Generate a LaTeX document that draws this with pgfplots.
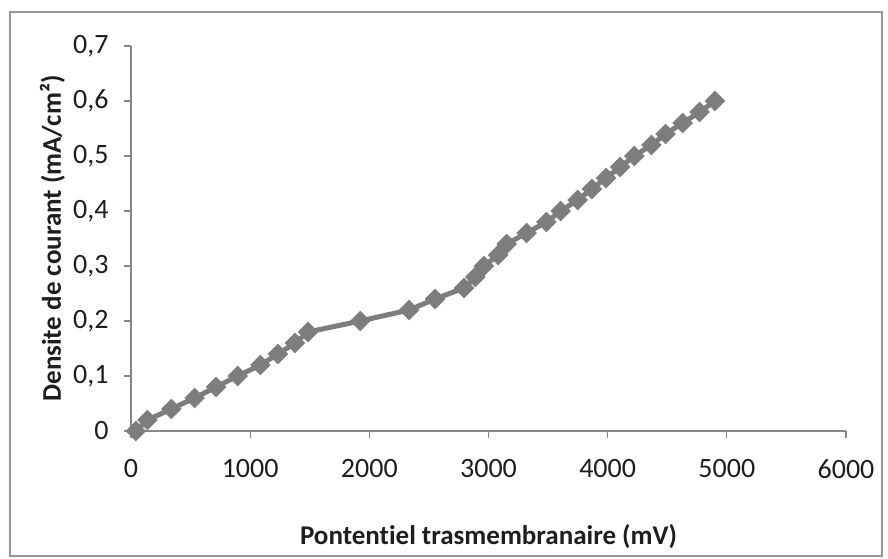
\documentclass[border=0pt]{standalone}
\usepackage{pgfplots}
\pgfplotsset{compat=1.18}
\usepackage{fontspec}
\setmainfont[Ligatures=NoCommon]{Carlito}
\definecolor{ser}{RGB}{125,125,128}
\definecolor{axgray}{RGB}{134,134,134}
\definecolor{bordergray}{RGB}{150,150,150}
\definecolor{textcol}{RGB}{30,30,30}
\begin{document}
\begin{tikzpicture}[x=1pt,y=1pt]
\useasboundingbox (-131,-128) rectangle (757,431);
\draw[bordergray, line width=1.3pt] (-121,-125) rectangle (751,419);
\begin{axis}[
  at={(0pt,0pt)}, anchor=south west,
  scale only axis, width=715pt, height=385pt,
  xmin=0, xmax=6000, ymin=0, ymax=0.7,
  axis x line=bottom, axis y line=left,
  axis line style={axgray, line width=1.3pt, -},
  xtick={0,1000,2000,3000,4000,5000,6000},
  ytick={0,0.1,0.2,0.3,0.4,0.5,0.6,0.7},
  yticklabels={0,{0,1},{0,2},{0,3},{0,4},{0,5},{0,6},{0,7}},
  xticklabels={0,1000,2000,3000,4000,5000,6000},
  tick style={axgray, line width=1.3pt},
  tick align=outside, major tick length=7pt,
  tick label style={font=\fontsize{28}{32}\selectfont, text=textcol},
  xticklabel style={yshift=-18pt},
  yticklabel style={xshift=-12pt},
  label style={font=\bfseries\fontsize{27}{32}\selectfont, text=textcol},
  xlabel={Pontent\kern0pt iel trasmembranaire (mV)},
  ylabel={Densite de courant (mA/cm²)},
  xlabel style={at={(axis description cs:0.5,-0.275)}, anchor=center},
  ylabel style={at={(axis description cs:-0.11,0.5)}, anchor=center},
  clip=false,
]
\addplot[ser, line width=5pt, mark=square*, mark size=7pt,
  mark options={rotate=45, fill=ser, draw=ser, line width=0.5pt}] coordinates {
(40,0) (138,0.02) (338,0.04) (533,0.06) (714,0.08) (895,0.10) (1086,0.12)
(1233,0.14) (1376,0.16) (1486,0.18) (1924,0.20) (2333,0.22) (2552,0.24)
(2795,0.26) (2890,0.28) (2962,0.30) (3081,0.32) (3152,0.34) (3319,0.36)
(3486,0.38) (3605,0.40) (3748,0.42) (3867,0.44) (3986,0.46) (4105,0.48)
(4224,0.50) (4367,0.52) (4486,0.54) (4629,0.56) (4771,0.58) (4900,0.60)
};
\end{axis}
\end{tikzpicture}
\end{document}
